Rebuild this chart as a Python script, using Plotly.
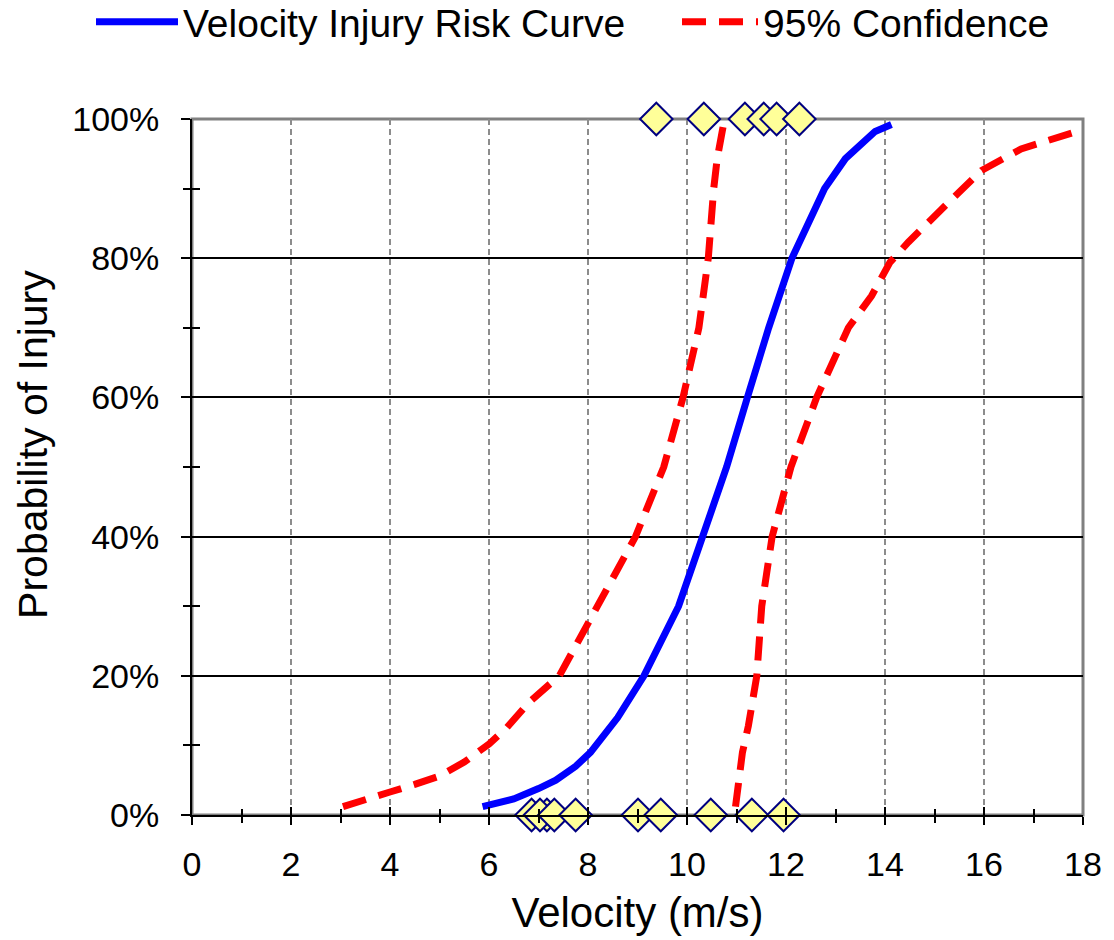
import plotly.graph_objects as go

# ---- data ----
# Velocity injury risk curve (velocity m/s, probability %)
risk_velocity = [5.87, 6.5, 7.0, 7.35, 7.75, 8.05, 8.6, 9.13, 9.83, 10.3, 10.8, 11.22, 11.65, 12.12, 12.78, 13.2, 13.8, 14.13]
risk_prob = [1.2, 2.3, 3.8, 5.0, 7.0, 9.0, 14.0, 20, 30, 40, 50, 60, 70, 80, 90, 94.3, 98.2, 99.2]

# lower 95% confidence bound
ci_low_velocity = [3.05, 3.5, 4.0, 4.5, 5.0, 5.5, 6.0, 6.34, 6.81, 7.42, 7.75, 8.22, 8.96, 9.53, 9.92, 10.24, 10.43, 10.54, 10.61, 10.74]
ci_low_prob = [1.2, 2.1, 3.3, 4.4, 5.6, 7.6, 10.2, 12.4, 16.2, 20, 24.3, 30, 40, 50, 60, 70, 80, 90, 94.3, 99.3]

# upper 95% confidence bound
ci_high_velocity = [10.98, 11.05, 11.12, 11.24, 11.41, 11.51, 11.72, 12.1, 12.62, 13.26, 13.73, 14.1, 14.47, 15.21, 15.95, 16.75, 17.3, 17.76, 18.0]
ci_high_prob = [1.2, 5, 9, 12.8, 20, 30, 40, 50, 60, 70, 74.6, 79.4, 82.3, 87.5, 92.6, 95.7, 97.0, 98.1, 98.5]

# test data: injured (100%) and uninjured (0%)
injured_velocity = [9.38, 10.34, 11.17, 11.55, 11.81, 12.27]
injured_outcome = [100, 100, 100, 100, 100, 100]
uninjured_velocity = [6.86, 7.17, 7.03, 7.32, 7.75, 9.01, 9.47, 10.48, 11.31, 11.95]
uninjured_outcome = [0, 0, 0, 0, 0, 0, 0, 0, 0, 0]

x_tick_values = [0, 2, 4, 6, 8, 10, 12, 14, 16, 18]
y_tick_values = [0, 20, 40, 60, 80, 100]

FONT = "Liberation Sans, Arial, sans-serif"

fig = go.Figure()

fig.add_trace(go.Scatter(
    x=risk_velocity, y=[p / 100 for p in risk_prob], mode="lines",
    name="Velocity Injury Risk Curve", legend="legend",
    line=dict(color="#0000FF", width=7),
))
fig.add_trace(go.Scatter(
    x=ci_low_velocity, y=[p / 100 for p in ci_low_prob], mode="lines",
    name="95% Confidence", legendgroup="ci", legend="legend2",
    line=dict(color="#FF0000", width=7, dash="24px,13px"),
))
fig.add_trace(go.Scatter(
    x=ci_high_velocity, y=[p / 100 for p in ci_high_prob], mode="lines",
    name="95% Confidence", legendgroup="ci", showlegend=False, legend="legend2",
    line=dict(color="#FF0000", width=7, dash="24px,13px"),
))
marker_style = dict(symbol="diamond", size=25, color="#FFFF99",
                    line=dict(color="#000080", width=2))
fig.add_trace(go.Scatter(
    x=injured_velocity, y=[p / 100 for p in injured_outcome], mode="markers",
    marker=marker_style, showlegend=False, cliponaxis=False,
))
fig.add_trace(go.Scatter(
    x=uninjured_velocity, y=[p / 100 for p in uninjured_outcome], mode="markers",
    marker=marker_style, showlegend=False, cliponaxis=False,
))
# helper trace for the overlay axes (inner half of crossing ticks + horizontal grid)
fig.add_trace(go.Scatter(x=[None], y=[None], xaxis="x2", yaxis="y2",
                         showlegend=False, hoverinfo="skip"))

legend_common = dict(
    orientation="h", xref="container", yref="container",
    y=1 - 22 / 940, xanchor="left", yanchor="middle",
    font=dict(size=39, family=FONT), bgcolor="rgba(0,0,0,0)",
)

fig.update_layout(
    width=1114, height=940,
    margin=dict(l=192, r=29, t=119, b=124),
    paper_bgcolor="white", plot_bgcolor="white",
    font=dict(family=FONT, color="black"),
    showlegend=True,
    legend=dict(legend_common, x=91 / 1114, itemwidth=82),
    legend2=dict(legend_common, x=677 / 1114, itemwidth=76),
    xaxis=dict(
        range=[0, 18], tickmode="array", tickvals=x_tick_values,
        ticks="outside", ticklen=8, tickwidth=2, tickcolor="black",
        showline=True, linecolor="black", linewidth=2,
        showgrid=True, gridcolor="#8c8c8c", gridwidth=2, griddash="6px,4px",
        zeroline=False,
        minor=dict(dtick=1, tick0=0, ticks="outside", ticklen=6, tickwidth=2,
                   tickcolor="black", showgrid=False),
        tickfont=dict(size=34, family=FONT),
        ticklabelstandoff=10,
        title=dict(text="Velocity (m/s)", font=dict(size=42, family=FONT), standoff=16),
    ),
    yaxis=dict(
        range=[0, 1], tickmode="array", tickvals=[v / 100 for v in y_tick_values],
        tickformat=".0%",
        ticks="outside", ticklen=9, tickwidth=2, tickcolor="black",
        showline=True, linecolor="black", linewidth=2,
        showgrid=False, zeroline=False,
        minor=dict(tickvals=[0.1, 0.3, 0.5, 0.7, 0.9], ticks="outside", ticklen=7,
                   tickwidth=2, tickcolor="black", showgrid=False),
        tickfont=dict(size=34, family=FONT),
        ticklabelstandoff=15,
    ),
    xaxis2=dict(
        overlaying="x", anchor="y", side="bottom", range=[0, 18],
        tickmode="array", tickvals=x_tick_values,
        ticks="inside", ticklen=8, tickwidth=2, tickcolor="black",
        showticklabels=False, showgrid=False, showline=False, zeroline=False,
        minor=dict(dtick=1, tick0=0, ticks="inside", ticklen=6, tickwidth=2,
                   tickcolor="black", showgrid=False),
    ),
    yaxis2=dict(
        overlaying="y", anchor="x", side="left", range=[0, 1],
        tickmode="array", tickvals=[0.2, 0.4, 0.6, 0.8],
        ticks="inside", ticklen=9, tickwidth=2, tickcolor="black",
        showticklabels=False, showline=False, zeroline=False,
        showgrid=True, gridcolor="black", gridwidth=2,
        minor=dict(tickvals=[0.1, 0.3, 0.5, 0.7, 0.9], ticks="inside", ticklen=8,
                   tickwidth=2, tickcolor="black", showgrid=False),
    ),
    shapes=[dict(type="rect", xref="paper", yref="paper", x0=0, x1=1, y0=0, y1=1,
                 line=dict(color="#808080", width=3), layer="below")],
    annotations=[dict(
        text="Probability of Injury", textangle=-90,
        xref="paper", yref="paper", x=(32 - 192) / 893, y=(816 - 445) / 697,
        xanchor="center", yanchor="middle", showarrow=False,
        font=dict(size=41, family=FONT, color="black"),
    )],
)

fig.write_html("out.html")
